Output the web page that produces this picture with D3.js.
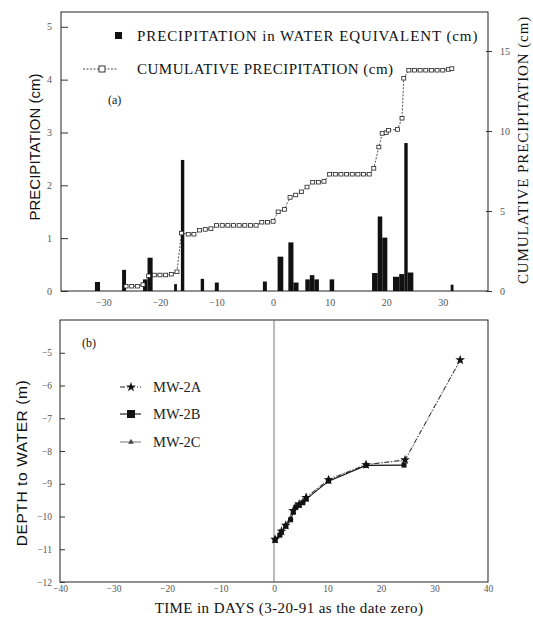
<!DOCTYPE html>
<html>
<head>
<meta charset="utf-8">
<script src="https://cdn.jsdelivr.net/npm/d3@7"></script>
<style>
  body { margin: 0; background: #fff; }
  svg { display: block; }
</style>
</head>
<body>
<svg id="chart" width="533" height="620"></svg>
<script>
// daily precipitation bars (start day, end day, cm)
const barStart = [-31.5, -26.7, -23.0, -22.2, -17.5, -16.3, -12.8, -10.3, -1.8, 0.8, 2.7, 3.6, 5.7, 6.5, 7.3, 10.0, 17.5, 18.5, 19.3, 21.2, 22.3, 23.2, 23.8, 31.4];
const barEnd   = [-30.6, -26.0, -22.2, -21.3, -17.0, -15.7, -12.2, -9.6, -1.1, 1.8, 3.6, 4.5, 6.5, 7.3, 8.1, 10.8, 18.5, 19.3, 20.2, 22.3, 23.2, 23.8, 24.8, 31.9];
const barValue = [0.17, 0.40, 0.22, 0.63, 0.13, 2.48, 0.23, 0.16, 0.18, 0.65, 0.92, 0.16, 0.22, 0.30, 0.22, 0.22, 0.34, 1.41, 1.01, 0.27, 0.32, 2.80, 0.35, 0.12];

// cumulative precipitation (day, cm)
const cumDays = [-26, -25, -24, -23, -22, -21, -20, -19, -18, -17, -16.2, -15, -14, -13, -12, -11, -10, -9, -8, -7, -6, -5, -4, -3, -2, -1, 0, 0.9, 2, 3, 4, 5, 6, 7, 8, 9, 10, 11, 12, 13, 14, 15, 16, 17, 17.8, 18.7, 19.3, 20, 20.4, 22, 22.8, 23.1, 24, 25, 26, 27, 28, 29, 30, 31, 31.6];
const cumValue = [0.30, 0.30, 0.30, 0.40, 0.95, 1.00, 1.00, 1.00, 1.05, 1.20, 3.62, 3.55, 3.55, 3.80, 3.85, 3.90, 4.10, 4.10, 4.10, 4.10, 4.10, 4.10, 4.10, 4.10, 4.30, 4.30, 4.35, 4.95, 5.10, 5.85, 6.00, 6.20, 6.50, 6.80, 6.80, 6.85, 7.30, 7.30, 7.30, 7.30, 7.30, 7.30, 7.30, 7.30, 7.67, 9.00, 9.85, 9.90, 10.05, 10.10, 10.80, 13.30, 13.80, 13.80, 13.80, 13.80, 13.80, 13.80, 13.80, 13.85, 13.90];

// depth to water (day, m)
const mw2aDays  = [0.2, 1.4, 2.2, 3.6, 4.7, 6.0, 10.2, 17.2, 24.5, 34.8];
const mw2aValue = [-10.70, -10.45, -10.27, -9.82, -9.62, -9.42, -8.88, -8.42, -8.27, -5.22];
const mw2bDays  = [0.2, 1.1, 1.4, 2.2, 3.1, 3.6, 4.1, 4.7, 5.4, 6.0, 10.2, 17.2, 24.3];
const mw2bValue = [-10.73, -10.57, -10.47, -10.30, -10.10, -9.87, -9.72, -9.66, -9.58, -9.47, -8.92, -8.44, -8.43];
const mw2cDays  = [0.2, 1.1, 2.2, 3.1, 4.1, 5.4, 6.0, 10.2, 17.2, 24.5, 34.8];
const mw2cValue = [-10.68, -10.52, -10.25, -10.05, -9.65, -9.52, -9.40, -8.85, -8.40, -8.30, -5.25];

const topXTicks = [-30, -20, -10, 0, 10, 20, 30];
const leftTicks = [0, 1, 2, 3, 4, 5];
const rightTicks = [0, 5, 10, 15];
const botXTicks = [-40, -30, -20, -10, 0, 10, 20, 30, 40];
const depthTicks = [-5, -6, -7, -8, -9, -10, -11, -12];

const svg = d3.select("#chart");
const serif = "'Liberation Serif', 'DejaVu Serif', serif";
const sans = "'Liberation Sans', Arial, sans-serif";
const tickColor = "#555";
const minus = d => d < 0 ? "\u2212" + Math.abs(d) : String(d);

// ---------- panel (a) ----------
const xA = d3.scaleLinear().domain([-37.5, 38]).range([61, 488]);
const yA = d3.scaleLinear().domain([0, 5.28]).range([291, 12]);
const yC = d3.scaleLinear().domain([0, 17.44]).range([291, 12]);

const gA = svg.append("g");

gA.append("rect")
    .attr("x", 61).attr("y", 12)
    .attr("width", 427).attr("height", 279)
    .attr("fill", "none").attr("stroke", "#222").attr("stroke-width", 1);

// bars
gA.selectAll(".bar")
    .data(barValue.map((v, i) => ({ s: barStart[i], e: barEnd[i], v })))
    .join("rect")
    .attr("class", "bar")
    .attr("x", d => xA(d.s))
    .attr("width", d => xA(d.e) - xA(d.s))
    .attr("y", d => yA(d.v))
    .attr("height", d => yA(0) - yA(d.v))
    .attr("fill", "#111");

// cumulative
const cum = cumDays.map((d, i) => ({ d, v: cumValue[i] }));
gA.append("path")
    .datum(cum)
    .attr("fill", "none")
    .attr("stroke", "#222")
    .attr("stroke-width", 0.8)
    .attr("stroke-dasharray", "2,1.5")
    .attr("d", d3.line().x(d => xA(d.d)).y(d => yC(d.v)));

gA.selectAll(".cum")
    .data(cum)
    .join("rect")
    .attr("class", "cum")
    .attr("x", d => xA(d.d) - 2)
    .attr("y", d => yC(d.v) - 1.8)
    .attr("width", 4)
    .attr("height", 3.6)
    .attr("fill", "#fff")
    .attr("stroke", "#222")
    .attr("stroke-width", 0.8);

// axes (a)
const axLeftA = gA.append("g").attr("transform", "translate(61,0)")
    .call(d3.axisLeft(yA).tickValues(leftTicks).tickSize(-7).tickPadding(9).tickFormat(d3.format("d")));
const axRightA = gA.append("g").attr("transform", "translate(488,0)")
    .call(d3.axisRight(yC).tickValues(rightTicks).tickSizeInner(4).tickSizeOuter(0).tickPadding(8).tickFormat(d3.format("d")));
const axBottomA = gA.append("g").attr("transform", "translate(0,291)")
    .call(d3.axisBottom(xA).tickValues(topXTicks).tickSize(0).tickPadding(8).tickFormat(minus));

[axLeftA, axRightA, axBottomA].forEach(ax => {
    ax.select(".domain").remove();
    ax.selectAll("line").attr("stroke", "#333");
    ax.selectAll("text").attr("font-family", serif).attr("font-size", 10).attr("fill", tickColor);
});
axRightA.selectAll(".tick line").attr("x1", -2).attr("x2", 4);

// legend (a)
gA.append("rect").attr("x", 115).attr("y", 32).attr("width", 7).attr("height", 7).attr("fill", "#111");
gA.append("text").attr("x", 137).attr("y", 41)
    .attr("font-family", serif).attr("font-size", 15).attr("letter-spacing", 0.9).attr("fill", "#111")
    .text("PRECIPITATION in WATER EQUIVALENT (cm)");
gA.append("line").attr("x1", 83).attr("x2", 117).attr("y1", 69).attr("y2", 69)
    .attr("stroke", "#222").attr("stroke-width", 0.8).attr("stroke-dasharray", "2,1.5");
gA.append("rect").attr("x", 99).attr("y", 66).attr("width", 6).attr("height", 6)
    .attr("fill", "#fff").attr("stroke", "#222").attr("stroke-width", 0.9);
gA.append("text").attr("x", 137).attr("y", 74)
    .attr("font-family", serif).attr("font-size", 15).attr("letter-spacing", 0.5).attr("fill", "#111")
    .text("CUMULATIVE PRECIPITATION (cm)");
gA.append("text").attr("x", 108).attr("y", 104)
    .attr("font-family", serif).attr("font-size", 12).attr("fill", "#111")
    .text("(a)");

// axis titles (a)
gA.append("text")
    .attr("transform", "translate(40,147) rotate(-90)")
    .attr("text-anchor", "middle")
    .attr("font-family", sans).attr("font-size", 15).attr("fill", "#111")
    .text("PRECIPITATION (cm)");
gA.append("text")
    .attr("transform", "translate(528,150) rotate(-90)")
    .attr("text-anchor", "middle")
    .attr("font-family", serif).attr("font-size", 15).attr("letter-spacing", 0.9).attr("fill", "#111")
    .text("CUMULATIVE PRECIPITATION (cm)");

// ---------- panel (b) ----------
const xB = d3.scaleLinear().domain([-40, 40]).range([60, 488]);
const yB = d3.scaleLinear().domain([-12, -4]).range([582, 320]);

const gB = svg.append("g");
gB.append("rect")
    .attr("x", 60).attr("y", 320)
    .attr("width", 428).attr("height", 262)
    .attr("fill", "none").attr("stroke", "#222").attr("stroke-width", 1);

gB.append("line")
    .attr("x1", xB(0)).attr("x2", xB(0))
    .attr("y1", 320).attr("y2", 582)
    .attr("stroke", "#555").attr("stroke-width", 0.8);

const axLeftB = gB.append("g").attr("transform", "translate(60,0)")
    .call(d3.axisLeft(yB).tickValues(depthTicks).tickSize(-5).tickPadding(8).tickFormat(minus));
const axBottomB = gB.append("g").attr("transform", "translate(0,582)")
    .call(d3.axisBottom(xB).tickValues(botXTicks).tickSize(0).tickPadding(3).tickFormat(minus));
[axLeftB, axBottomB].forEach(ax => {
    ax.select(".domain").remove();
    ax.selectAll("line").attr("stroke", "#333");
    ax.selectAll("text").attr("font-family", serif).attr("font-size", 9.5).attr("fill", tickColor);
});

const line = d3.line().x(d => xB(d.d)).y(d => yB(d.v));
const mwA = mw2aDays.map((d, i) => ({ d, v: mw2aValue[i] }));
const mwB = mw2bDays.map((d, i) => ({ d, v: mw2bValue[i] }));
const mwC = mw2cDays.map((d, i) => ({ d, v: mw2cValue[i] }));

gB.append("path").datum(mwC).attr("fill", "none").attr("stroke", "#666")
    .attr("stroke-width", 0.8).attr("stroke-dasharray", "1,2").attr("d", line);
gB.append("path").datum(mwA).attr("fill", "none").attr("stroke", "#222")
    .attr("stroke-width", 1).attr("stroke-dasharray", "5,2,1,2").attr("d", line);
gB.append("path").datum(mwB).attr("fill", "none").attr("stroke", "#111")
    .attr("stroke-width", 1.1).attr("d", line);

const star = d3.symbol().type(d3.symbolStar).size(30);
const tri = d3.symbol().type(d3.symbolTriangle).size(14);
gB.selectAll(".mwc").data(mwC).join("path").attr("class", "mwc")
    .attr("transform", d => `translate(${xB(d.d)},${yB(d.v)})`)
    .attr("d", tri).attr("fill", "#444");
gB.selectAll(".mwa").data(mwA).join("path").attr("class", "mwa")
    .attr("transform", d => `translate(${xB(d.d)},${yB(d.v)})`)
    .attr("d", star).attr("fill", "#111");
gB.selectAll(".mwb").data(mwB).join("rect").attr("class", "mwb")
    .attr("x", d => xB(d.d) - 2.5).attr("y", d => yB(d.v) - 2.5)
    .attr("width", 5).attr("height", 5).attr("fill", "#111");

// legend (b)
const legY = [387, 414, 442];
gB.append("line").attr("x1", 120).attr("x2", 141).attr("y1", legY[0]).attr("y2", legY[0])
    .attr("stroke", "#222").attr("stroke-dasharray", "5,2,1,2");
gB.append("path").attr("transform", `translate(131,${legY[0]})`).attr("d", star).attr("fill", "#111");
gB.append("line").attr("x1", 120).attr("x2", 141).attr("y1", legY[1]).attr("y2", legY[1])
    .attr("stroke", "#111").attr("stroke-width", 1.1);
gB.append("rect").attr("x", 127).attr("y", legY[1] - 4).attr("width", 8).attr("height", 8).attr("fill", "#111");
gB.append("line").attr("x1", 120).attr("x2", 141).attr("y1", legY[2]).attr("y2", legY[2])
    .attr("stroke", "#555").attr("stroke-width", 0.8);
gB.append("path").attr("transform", `translate(131,${legY[2]})`).attr("d", tri).attr("fill", "#444");

["MW-2A", "MW-2B", "MW-2C"].forEach((t, i) => {
    gB.append("text").attr("x", 153).attr("y", legY[i] + 5)
        .attr("font-family", serif).attr("font-size", 14.5).attr("fill", "#222")
        .text(t);
});
gB.append("text").attr("x", 82).attr("y", 347)
    .attr("font-family", serif).attr("font-size", 12).attr("fill", "#111")
    .text("(b)");

gB.append("text")
    .attr("transform", "translate(27,463) rotate(-90)")
    .attr("text-anchor", "middle")
    .attr("font-family", sans).attr("font-size", 15.5).attr("letter-spacing", 0.6).attr("fill", "#111")
    .text("DEPTH to WATER (m)");
gB.append("text")
    .attr("x", 289).attr("y", 613)
    .attr("text-anchor", "middle")
    .attr("font-family", serif).attr("font-size", 15).attr("letter-spacing", 0.4).attr("fill", "#111")
    .text("TIME in DAYS (3-20-91 as the date zero)");
</script>
</body>
</html>
